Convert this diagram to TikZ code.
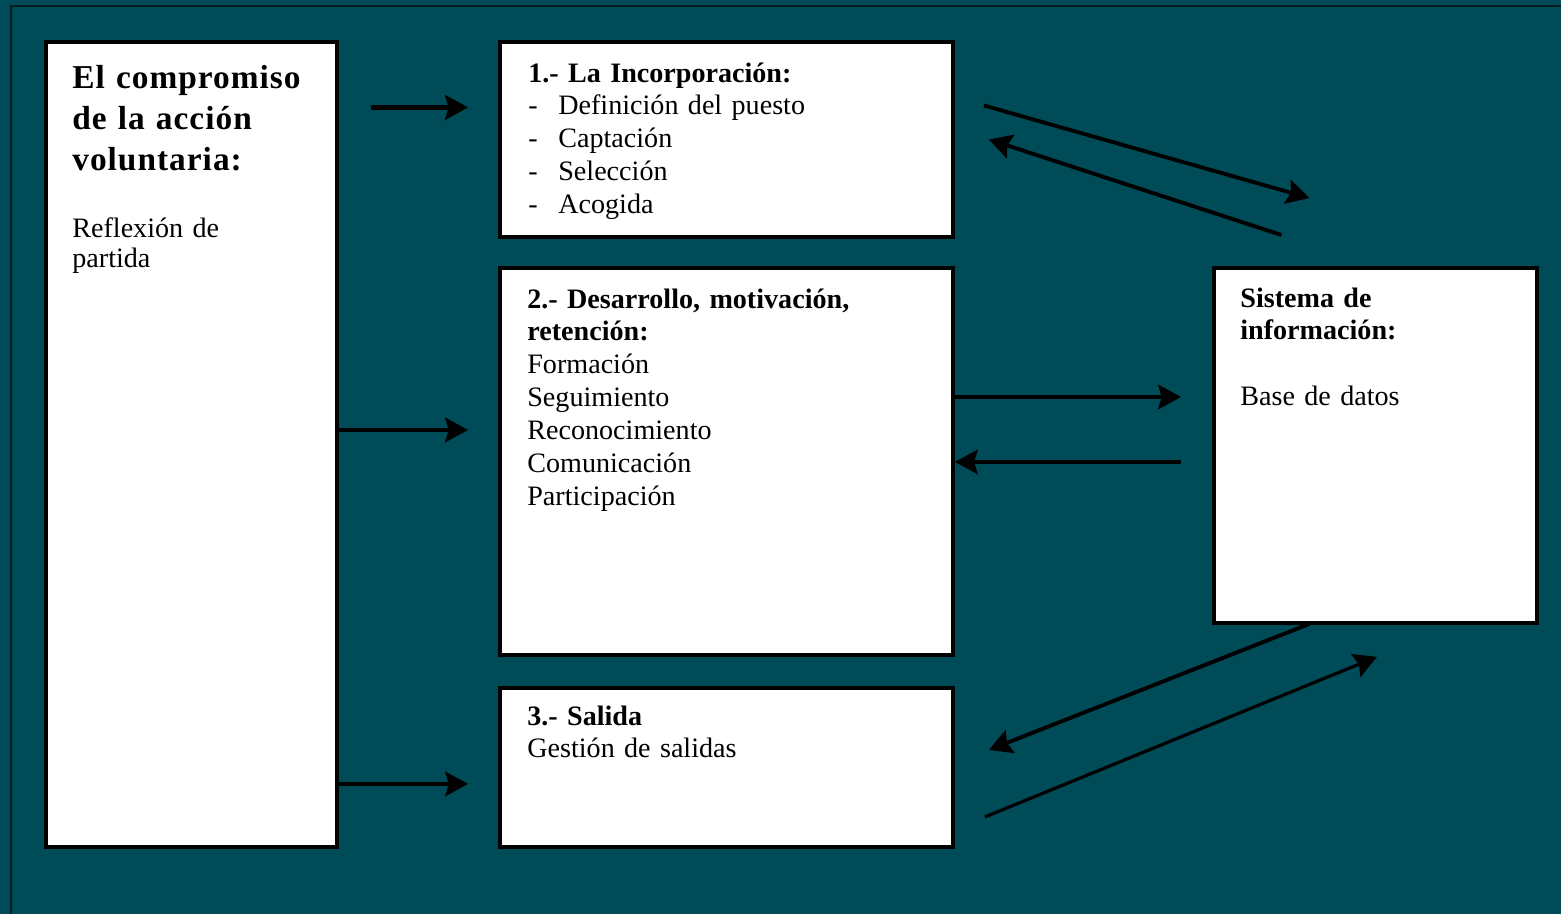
\documentclass[tikz,border=0pt]{standalone}
\usepackage{fontspec}
\setmainfont{Liberation Serif}
\usetikzlibrary{arrows.meta,positioning,calc}
\definecolor{bgteal}{RGB}{0,75,88}
\definecolor{framedark}{RGB}{8,28,34}

\begin{document}
\begin{tikzpicture}[
    x=0.02cm, y=-0.02cm,
    box/.style={rectangle, draw=black, fill=white, line width=2.2pt, anchor=north west, inner sep=0pt},
    txt/.style={anchor=base west, inner sep=0pt, text width=9cm, align=left, font=\fontsize{16}{18.7}\selectfont},
    arrow/.style={-{Stealth[length=13pt, width=14pt, inset=2pt]}, line width=1.8pt, black}
]
% background and frame
\fill[bgteal] (0,0) rectangle (1561,914);
\useasboundingbox (0,0) rectangle (1561,914);
\draw[framedark, line width=1.6pt] (11,914) -- (11,6) -- (1561,6);

% boxes
\node[box, minimum width=291*0.02cm, minimum height=805*0.02cm] (compromiso) at (44,40) {};
\node[box, minimum width=453*0.02cm, minimum height=195*0.02cm] (inc) at (498,40) {};
\node[box, minimum width=453*0.02cm, minimum height=387*0.02cm] (des) at (498,266) {};
\node[box, minimum width=453*0.02cm, minimum height=159*0.02cm] (sal) at (498,686) {};
\node[box, minimum width=323*0.02cm, minimum height=355*0.02cm] (sis) at (1212,266) {};

% texts
\node[txt, font=\fontsize{19}{23.5}\selectfont\bfseries\addfontfeature{LetterSpace=3}] (comptitle) at ($(compromiso.north west)+(28,48)$) {El compromiso\\de la acción\\voluntaria:};
\node[txt, font=\fontsize{16}{17.6}\selectfont] (compbody) at ($(compromiso.north west)+(28,197)$) {Reflexión de\\partida};

\node[txt] (inctxt) at ($(inc.north west)+(30,42)$) {\textbf{1.- La Incorporación:}\\
  \makebox[0.6cm][l]{-}Definición del puesto\\
  \makebox[0.6cm][l]{-}Captación\\
  \makebox[0.6cm][l]{-}Selección\\
  \makebox[0.6cm][l]{-}Acogida};

\node[txt] (destxt) at ($(des.north west)+(29,42)$) {\textbf{2.- Desarrollo, motivación,}\\\textbf{retención:}\\Formación\\Seguimiento\\Reconocimiento\\Comunicación\\Participación};

\node[txt] (saltxt) at ($(sal.north west)+(29,39)$) {\textbf{3.- Salida}\\Gestión de salidas};

\node[txt] (sistxt) at ($(sis.north west)+(28,41)$) {\textbf{Sistema de}\\\textbf{información:}\\[18.7pt]Base de datos};

% arrows from the left box
\coordinate (t1) at ($(inc.west)+(-30,-32)$);
\coordinate (t2) at ($(des.west)+(-30,-31.5)$);
\coordinate (t3) at ($(sal.west)+(-30,16.5)$);
\draw[arrow, line width=2.8pt] ($(compromiso.east |- t1)+(32,0)$) -- (t1);
\draw[arrow] (compromiso.east |- t2) -- (t2);
\draw[arrow] (compromiso.east |- t3) -- (t3);

% arrows to and from the information system
\draw[arrow, line width=2.2pt] ($(inc.east)+(29,-34)$) -- ($(sis.north)+(-66,-68)$);
\draw[arrow, line width=2.2pt] ($(sis.north)+(-94,-31)$) -- ($(inc.east)+(34,0)$);
\draw[arrow] ($(des.east)+(0,-64.5)$) -- ($(sis.west)+(-31,-48.5)$);
\draw[arrow] ($(sis.west)+(-31,16.5)$) -- ($(des.east)+(0,0.5)$);
\draw[arrow, line width=2.2pt] ($(sis.south)+(-66,-1)$) -- ($(sal.east)+(34,-17.5)$);
\draw[arrow] ($(sal.east)+(30,49.5)$) -- ($(sis.south)+(1.5,32)$);

\end{tikzpicture}
\end{document}
